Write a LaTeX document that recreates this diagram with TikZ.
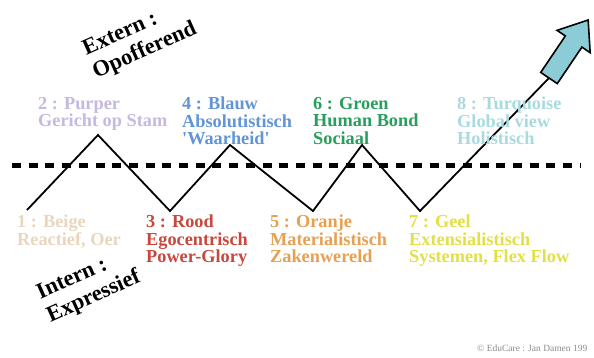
\documentclass[tikz,border=0pt]{standalone}
\usepackage{fontspec}
\setmainfont{Liberation Serif}
\definecolor{beige}{RGB}{232,214,190}
\definecolor{purper}{RGB}{198,184,224}
\definecolor{rood}{RGB}{198,72,62}
\definecolor{blauw}{RGB}{98,148,214}
\definecolor{oranje}{RGB}{230,160,82}
\definecolor{groen}{RGB}{40,158,92}
\definecolor{geel}{RGB}{226,224,72}
\definecolor{turq}{RGB}{168,218,224}
\definecolor{pijl}{RGB}{140,204,214}
\tikzset{niveau/.style={anchor=north west,inner sep=0pt,align=left,
            font=\fontsize{18.3}{17.5}\selectfont\bfseries},
         as/.style={rotate=24,align=left,inner sep=0pt,
            font=\fontsize{22.5}{25}\selectfont\bfseries}}
\begin{document}
\begin{tikzpicture}[x=1pt,y=-1pt]
 \useasboundingbox (0,0) rectangle (594,357);
   % as
   \coordinate (links) at (12,165);
   \coordinate (rechts) at (580,165);
     \draw[line width=5pt,dash pattern=on 9pt off 7.7pt] (links) -- (rechts);
   % zigzag
   \coordinate (p1) at (27,210);
   \coordinate (p2) at (98,135);
   \coordinate (p3) at (170,211);
   \coordinate (p4) at (230,145);
   \coordinate (p5) at (313,211);
   \coordinate (p6) at (362,145);
   \coordinate (p7) at (420,211);
   \coordinate (basis) at (549,78);
     \draw[line width=1.8pt] (p1) -- (p2) -- (p3) -- (p4) -- (p5) -- (p6) -- (p7) -- (basis);
   % pijl
  \begin{scope}[shift={(basis)},rotate=56]
     \draw[fill=pijl,line width=1.6pt] (0,-10) -- (44,-10) -- (44,-20) -- (70,0) -- (44,20) -- (44,10) -- (0,10) -- cycle;
  \end{scope}
   % niveaus
  \node[niveau,text=purper] (purper) at (38,97) {2 : Purper\\Gericht op Stam};
  \node[niveau,text=blauw] (blauw) at (182,97) {4 : Blauw\\Absolutistisch\\\textquotesingle Waarheid\textquotesingle};
  \node[niveau,text=groen] (groen) at (313,97) {6 : Groen\\Human Bond\\Sociaal};
  \node[niveau,text=turq] (turq) at (457,97) {8 : Turquoise\\Global view\\Holistisch};
  \node[niveau,text=beige] (beige) at (17,215) {1 : Beige\\Reactief, Oer};
  \node[niveau,text=rood] (rood) at (146,215) {3 : Rood\\Egocentrisch\\Power-Glory};
  \node[niveau,text=oranje] (oranje) at (270,215) {5 : Oranje\\Materialistisch\\Zakenwereld};
  \node[niveau,text=geel] (geel) at (409,215) {7 : Geel\\Extensialistisch\\Systemen, Flex Flow};
   % extern / intern
  \node[as] (extern) at (140,40) {Extern :\\Opofferend};
  \node[as] (intern) at (89,286) {Intern :\\Expressief};
  \node[anchor=base west,inner sep=0pt,text=black!45,font=\fontsize{9.5}{10}\selectfont] (copy) at (477,351) {© EduCare : Jan Damen 199};
\end{tikzpicture}
\end{document}
